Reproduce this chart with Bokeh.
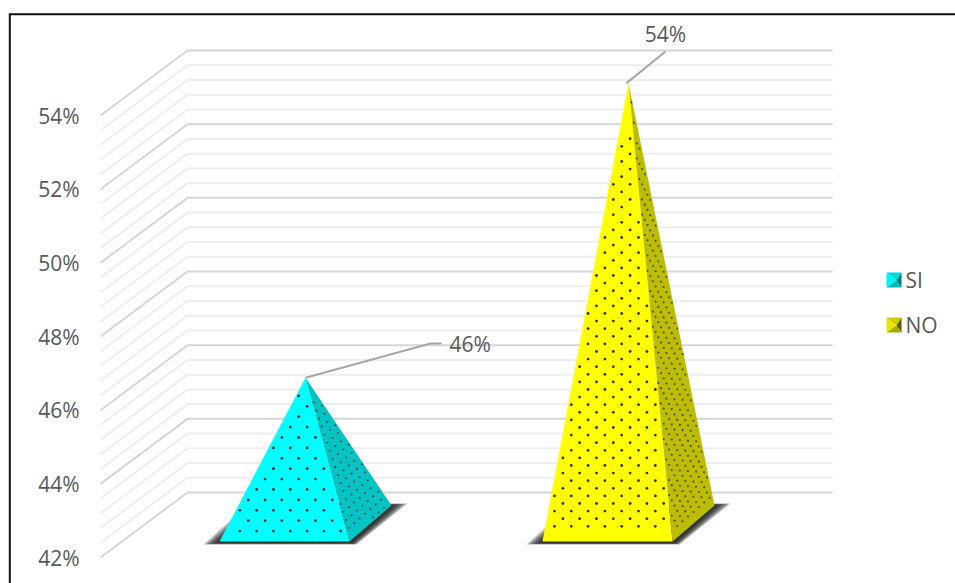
from bokeh.core.properties import value
from bokeh.embed import file_html
from bokeh.models import FixedTicker, LinearAxis, PrintfTickFormatter, Range1d
from bokeh.plotting import figure
from bokeh.resources import INLINE
import numpy as np

# Survey result
categories = ["SI", "NO"]
shares = [46, 54]
labels = ["46%", "54%"]
tick_values = [42, 44, 46, 48, 50, 52, 54]
grid_values = [42 + i * 0.4 for i in range(31)]

# Drawing constants (canvas pixels, or value units where stated)
W, H = 955, 583
PX = 36.83                 # pixels per percentage point
Y42 = 557                  # height of the 42% tick on the front plane
DEPTH_X, DEPTH_V = 87, 65 / PX
WALL_END = 832
CENTERS = [305, 628]
HALF_W, HALF_D = 65, 21
FLOOR_FRONT, FLOOR_BACK = 42.434, 43.412
APEX_SHIFT = 0.88
FACE = ["#00ffff", "#ffff00"]
SIDE = ["#00c4c4", "#bdbd00"]
ROW_H = [10.4, 7.6]
INK = "#595959"
FONT = value("Open Sans")
TEXT_SIZE = "21px"

p = figure(width=W, height=H, output_backend="svg", toolbar_location=None,
           x_range=Range1d(0, W),
           y_range=Range1d(42 - (H - Y42) / PX, 42 + Y42 / PX),
           x_axis_type=None, y_axis_type=None,
           min_border=0, outline_line_color=None)
p.grid.visible = False


def v_of(y_px):
    """Value-axis coordinate of a canvas row."""
    return 42 + (Y42 - y_px) / PX


# Value axis on the front edge of the floor
axis = LinearAxis(ticker=FixedTicker(ticks=tick_values),
                  formatter=PrintfTickFormatter(format="%d%%"),
                  fixed_location=100, axis_line_color=None,
                  major_tick_line_color=None, minor_tick_line_color=None,
                  major_label_standoff=15, major_label_text_color=INK,
                  major_label_text_font="Open Sans",
                  major_label_text_font_size=TEXT_SIZE)
p.add_layout(axis, "left")

# Chart frame, open on the right and at the bottom
p.line([9.3, 9.3, W], [v_of(H), v_of(13.7), v_of(13.7)],
       line_color="#111111", line_width=2, line_join="miter")

# Side wall and back wall lines
for g in grid_values:
    major = abs(g / 2 - round(g / 2)) < 1e-6
    p.line([100, 100 + DEPTH_X, WALL_END], [g, g + DEPTH_V, g + DEPTH_V],
           line_color="#d6d6d6" if major else "#eeeeee", line_width=2)


def in_triangle(px, py, tri):
    (ax, ay), (bx, by), (cx, cy) = tri
    d = (by - cy) * (ax - cx) + (cx - bx) * (ay - cy)
    l1 = ((by - cy) * (px - cx) + (cx - bx) * (py - cy)) / d
    l2 = ((cy - ay) * (px - cx) + (ax - cx) * (py - cy)) / d
    return (l1 > 0.02) & (l2 > 0.02) & (l1 + l2 < 0.98)


for i, (cx, share) in enumerate(zip(CENTERS, shares)):
    fl = (cx - HALF_W - HALF_D, FLOOR_FRONT)
    fr = (cx + HALF_W - HALF_D, FLOOR_FRONT)
    br = (cx + HALF_W + HALF_D, FLOOR_BACK)
    apex = (cx, share + APEX_SHIFT)

    # Soft floor shadow built from stacked translucent outlines
    for spread in np.linspace(1, 0, 7):
        low = FLOOR_FRONT - (1.5 + 1.5 * spread) / PX
        high = FLOOR_BACK + (0.5 + 1.5 * spread) / PX
        left = fl[0] - 2 - 14 * spread
        right = br[0] + 2 + 14 * spread
        p.patch([left, fr[0] + 2 + 5 * spread, right, left + 46],
                [low, low, high, high],
                fill_color="#1a1a1a", fill_alpha=0.27, line_color=None)

    # Pyramid faces
    p.patch([fl[0], fr[0], apex[0]], [fl[1], fr[1], apex[1]], fill_color=FACE[i], line_color=None)
    p.patch([fr[0], br[0], apex[0]], [fr[1], br[1], apex[1]], fill_color=SIDE[i], line_color=None)

    # Dotted texture on both visible faces
    rows = np.arange(0, 80)
    cols = np.arange(-30, 31)
    rr, cc = np.meshgrid(rows, cols)
    front_x = fl[0] + 12 + (cc + 0.5 * (rr % 2)) * 16.8
    front_y = FLOOR_FRONT + rr * ROW_H[i] / PX
    tri = [fl, fr, apex]
    keep = in_triangle(front_x, (front_y - 42) * PX, [(a, (b - 42) * PX) for a, b in tri])
    p.scatter(front_x[keep], front_y[keep], size=2.8, marker="circle",
              fill_color="#1c1c1c", fill_alpha=0.9, line_color=None)

    side_x = fr[0] + (cc + 0.5 * (rr % 2)) * 5.4 + 2
    side_y = FLOOR_FRONT + 0.15 + (rr * ROW_H[i] + (cc + 0.5 * (rr % 2)) * 4.7) / PX
    tri = [fr, br, apex]
    keep = in_triangle(side_x, (side_y - 42) * PX, [(a, (b - 42) * PX) for a, b in tri])
    p.scatter(side_x[keep], side_y[keep], size=2.1, marker="circle",
              fill_color="#1c1c1c", fill_alpha=0.7, line_color=None)

# Leader lines and value labels
lead_si = CENTERS[0], shares[0] + APEX_SHIFT
p.line([lead_si[0], 430, 441], [lead_si[1], v_of(343), v_of(343)], line_color="#a6a6a6", line_width=2)
p.text([449], [v_of(343)], text=[labels[0]], text_font=FONT, text_font_size=TEXT_SIZE,
       text_color=INK, text_align="left", text_baseline="middle")

lead_no = CENTERS[1] - 2, shares[1] + APEX_SHIFT
p.line([lead_no[0], 665], [lead_no[1], v_of(51)], line_color="#a6a6a6", line_width=2)
p.text([665], [v_of(33)], text=[labels[1]], text_font=FONT, text_font_size=TEXT_SIZE,
       text_color=INK, text_align="center", text_baseline="middle")

# Legend: small pyramids seen from above
icon_colors = [
    ["#00f4f4", "#00d4d4", "#007878", "#00b8b8"],
    ["#e6e600", "#cfcf00", "#5a5a00", "#a8a800"],
]
for name, row, tones in zip(categories, [280, 325], icon_colors):
    x0, x1, xm = 886, 901, 896
    top, bot, mid = v_of(row - 8), v_of(row + 7), v_of(row)
    p.patch([x0, xm, x0], [top, mid, bot], fill_color=tones[0], line_color=None)
    p.patch([x0, x1, xm], [top, top, mid], fill_color=tones[1], line_color=None)
    p.patch([x1, x1, xm], [top, bot, mid], fill_color=tones[2], line_color=None)
    p.patch([x0, x1, xm], [bot, bot, mid], fill_color=tones[3], line_color=None)
    p.text([905], [v_of(row - 1)], text=[name], text_font=FONT, text_font_size=TEXT_SIZE,
           text_color=INK, text_align="left", text_baseline="middle")

open("out.html", "w").write(file_html(p, INLINE))
